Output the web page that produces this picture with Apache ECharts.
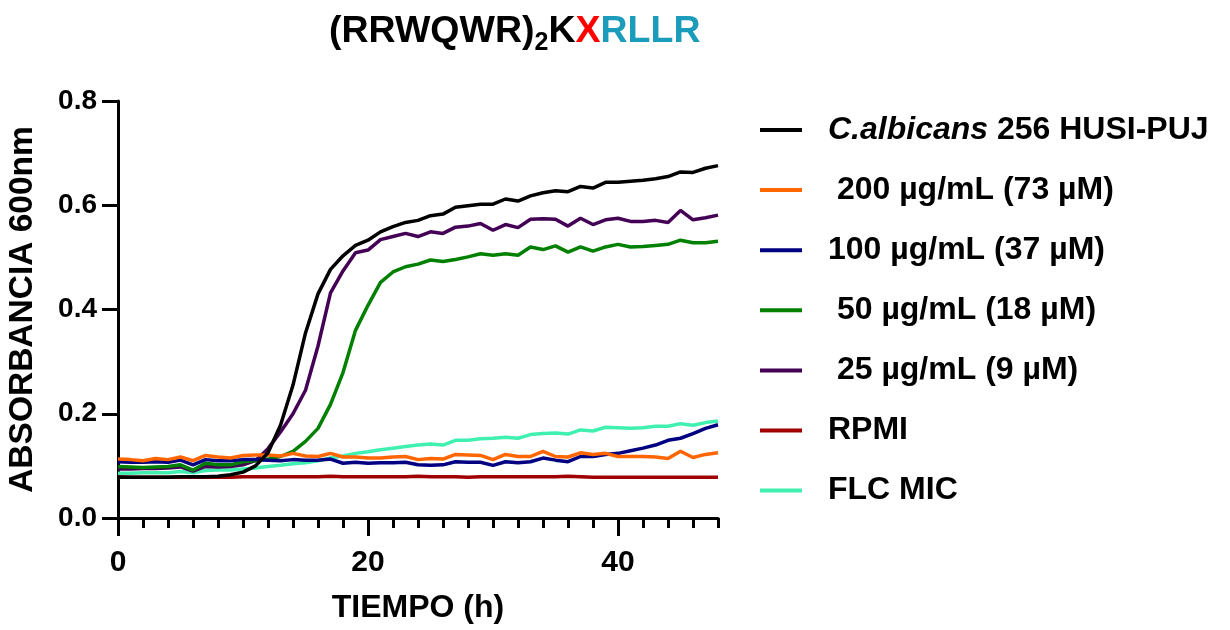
<!DOCTYPE html>
<html>
<head>
<meta charset="utf-8">
<script src="https://cdn.jsdelivr.net/npm/echarts@6/dist/echarts.min.js"></script>
<style>html,body{margin:0;padding:0;background:#fff;}#c{width:1230px;height:630px;}</style>
</head>
<body>
<div id="c"></div>
<script>
var hours = [0,1,2,3,4,5,6,7,8,9,10,11,12,13,14,15,16,17,18,19,20,21,22,23,24,25,26,27,28,29,30,31,32,33,34,35,36,37,38,39,40,41,42,43,44,45,46,47,48];

var seriesNames = ['C.albicans 256 HUSI-PUJ', ' 200 µg/mL (73 µM)', '100 µg/mL (37 µM)', ' 50 µg/mL (18 µM)', ' 25 µg/mL (9 µM)', 'RPMI', 'FLC MIC'];

var calbicans = [0.078,0.078,0.078,0.078,0.078,0.079,0.079,0.079,0.080,0.083,0.088,0.100,0.125,0.178,0.255,0.355,0.430,0.477,0.503,0.523,0.533,0.549,0.559,0.567,0.571,0.580,0.583,0.596,0.599,0.602,0.602,0.612,0.608,0.618,0.624,0.628,0.626,0.636,0.633,0.644,0.644,0.646,0.648,0.651,0.655,0.664,0.663,0.671,0.676];

var dose200 = [0.113,0.112,0.110,0.114,0.112,0.117,0.110,0.120,0.117,0.115,0.120,0.121,0.121,0.119,0.124,0.119,0.118,0.124,0.117,0.117,0.115,0.115,0.117,0.118,0.112,0.114,0.113,0.122,0.121,0.120,0.112,0.122,0.118,0.118,0.128,0.118,0.117,0.125,0.122,0.124,0.118,0.118,0.118,0.117,0.114,0.128,0.116,0.122,0.125];

var dose100 = [0.108,0.107,0.107,0.108,0.107,0.111,0.102,0.112,0.110,0.110,0.112,0.112,0.111,0.110,0.112,0.111,0.111,0.113,0.105,0.107,0.105,0.106,0.106,0.107,0.102,0.101,0.102,0.108,0.107,0.107,0.101,0.108,0.106,0.108,0.115,0.111,0.108,0.118,0.118,0.122,0.124,0.129,0.134,0.140,0.149,0.153,0.162,0.172,0.179];

var dose50 = [0.099,0.098,0.097,0.098,0.099,0.102,0.092,0.105,0.102,0.102,0.108,0.110,0.113,0.118,0.128,0.147,0.172,0.218,0.279,0.360,0.408,0.452,0.472,0.482,0.487,0.495,0.492,0.496,0.501,0.507,0.504,0.507,0.504,0.520,0.515,0.522,0.510,0.520,0.512,0.520,0.525,0.520,0.521,0.523,0.525,0.533,0.528,0.528,0.531];

var dose25 = [0.094,0.094,0.095,0.095,0.096,0.098,0.090,0.099,0.098,0.099,0.102,0.110,0.133,0.165,0.200,0.245,0.330,0.432,0.474,0.509,0.514,0.534,0.540,0.546,0.540,0.549,0.546,0.558,0.560,0.565,0.552,0.563,0.557,0.573,0.574,0.573,0.560,0.575,0.563,0.572,0.575,0.569,0.569,0.571,0.567,0.590,0.572,0.576,0.581];

var rpmi = [0.079,0.078,0.078,0.078,0.078,0.078,0.078,0.078,0.078,0.078,0.079,0.079,0.079,0.079,0.079,0.079,0.079,0.080,0.079,0.079,0.079,0.079,0.079,0.079,0.080,0.079,0.079,0.079,0.078,0.079,0.079,0.079,0.079,0.079,0.079,0.079,0.080,0.079,0.078,0.078,0.078,0.078,0.078,0.078,0.078,0.078,0.078,0.078,0.078];

var flcMic = [0.086,0.086,0.087,0.087,0.087,0.089,0.087,0.091,0.092,0.092,0.094,0.096,0.099,0.101,0.104,0.106,0.110,0.115,0.119,0.124,0.127,0.131,0.134,0.137,0.140,0.142,0.140,0.149,0.149,0.152,0.153,0.155,0.153,0.160,0.162,0.163,0.161,0.169,0.167,0.174,0.173,0.172,0.173,0.176,0.176,0.181,0.178,0.183,0.186];

var yTicks = [0, 0.2, 0.4, 0.6, 0.8];
var xMajorTicks = [0, 20, 40];

var allValues = [calbicans, dose200, dose100, dose50, dose25, rpmi, flcMic];
var colors = ['#000000', '#FF6600', '#000080', '#008000', '#440055', '#A00000', '#40F0B0'];

var FONT = '"Liberation Sans", Arial, Helvetica, sans-serif';

function pairs(vals) {
  return hours.map(function (h, i) { return [h, vals[i]]; });
}

var series = seriesNames.map(function (n, i) {
  return {
    name: n,
    type: 'line',
    xAxisIndex: 0,
    yAxisIndex: 0,
    data: pairs(allValues[i]),
    showSymbol: false,
    symbol: 'none',
    smooth: false,
    z: 20 - i,
    lineStyle: { color: colors[i], width: 3.5 },
    itemStyle: { color: colors[i] },
    animation: false
  };
});

var chart = echarts.init(document.getElementById('c'), null, { renderer: 'canvas' });
chart.setOption({
  animation: false,
  backgroundColor: '#ffffff',
  textStyle: { fontFamily: FONT },
  title: {
    text: '{p|(RRWQWR)}{s|2}{p|K}{x|X}{t|RLLR}',
    left: 324,
    top: 2,
    textStyle: {
      rich: {
        p: { fontSize: 37.5, fontWeight: 'bold', color: '#000000', fontFamily: FONT },
        s: { fontSize: 25, fontWeight: 'bold', color: '#000000', fontFamily: FONT, padding: [24, 0, 0, 0] },
        x: { fontSize: 37.5, fontWeight: 'bold', color: '#FF0000', fontFamily: FONT },
        t: { fontSize: 37.5, fontWeight: 'bold', color: '#1A9CBA', fontFamily: FONT }
      }
    }
  },
  legend: {
    orient: 'vertical',
    left: 760,
    top: 112,
    padding: 0,
    data: seriesNames,
    icon: 'rect',
    itemWidth: 42,
    itemHeight: 4,
    itemGap: 24.1,
    selectedMode: false,
    formatter: function (name) {
      if (name === seriesNames[0]) return '{i|C.albicans} 256 HUSI-PUJ';
      return name;
    },
    textStyle: {
      fontSize: 32,
      fontWeight: 'bold',
      color: '#000000',
      fontFamily: FONT,
      lineHeight: 36,
      padding: [0, 0, 0, 21],
      rich: {
        i: { fontSize: 32, fontWeight: 'bold', fontStyle: 'italic', color: '#000000', fontFamily: FONT, lineHeight: 36 }
      }
    }
  },
  grid: { left: 118, top: 101, width: 600, height: 417 },
  xAxis: [
    {
      type: 'value',
      min: 0,
      max: 48,
      interval: 2,
      position: 'bottom',
      axisLine: { show: true, lineStyle: { color: '#000000', width: 3 } },
      axisTick: { show: true, length: 10, lineStyle: { color: '#000000', width: 3 } },
      axisLabel: { show: false },
      splitLine: { show: false }
    },
    {
      type: 'value',
      min: 0,
      max: 48,
      interval: 20,
      position: 'bottom',
      name: 'TIEMPO (h)',
      nameLocation: 'middle',
      nameGap: 74,
      nameTextStyle: { fontSize: 32, fontWeight: 'bold', color: '#000000', fontFamily: FONT },
      axisLine: { show: false },
      axisTick: { show: true, length: 18, customValues: xMajorTicks, lineStyle: { color: '#000000', width: 3 } },
      axisLabel: { show: true, customValues: xMajorTicks, margin: 30, fontSize: 30, fontWeight: 'bold', color: '#000000', fontFamily: FONT },
      splitLine: { show: false }
    }
  ],
  yAxis: {
    type: 'value',
    min: 0,
    max: 0.8,
    interval: 0.2,
    name: 'ABSORBANCIA 600nm',
    nameLocation: 'middle',
    nameGap: 78,
    nameTextStyle: { fontSize: 33.5, fontWeight: 'bold', color: '#000000', fontFamily: FONT },
    axisLine: { show: true, lineStyle: { color: '#000000', width: 3 } },
    axisTick: { show: true, length: 16, lineStyle: { color: '#000000', width: 3 } },
    axisLabel: {
      margin: 21, fontSize: 28, fontWeight: 'bold', color: '#000000', fontFamily: FONT,
      formatter: function (v) { return v.toFixed(1); },
      customValues: yTicks
    },
    splitLine: { show: false }
  },
  series: series
});
</script>
</body>
</html>
